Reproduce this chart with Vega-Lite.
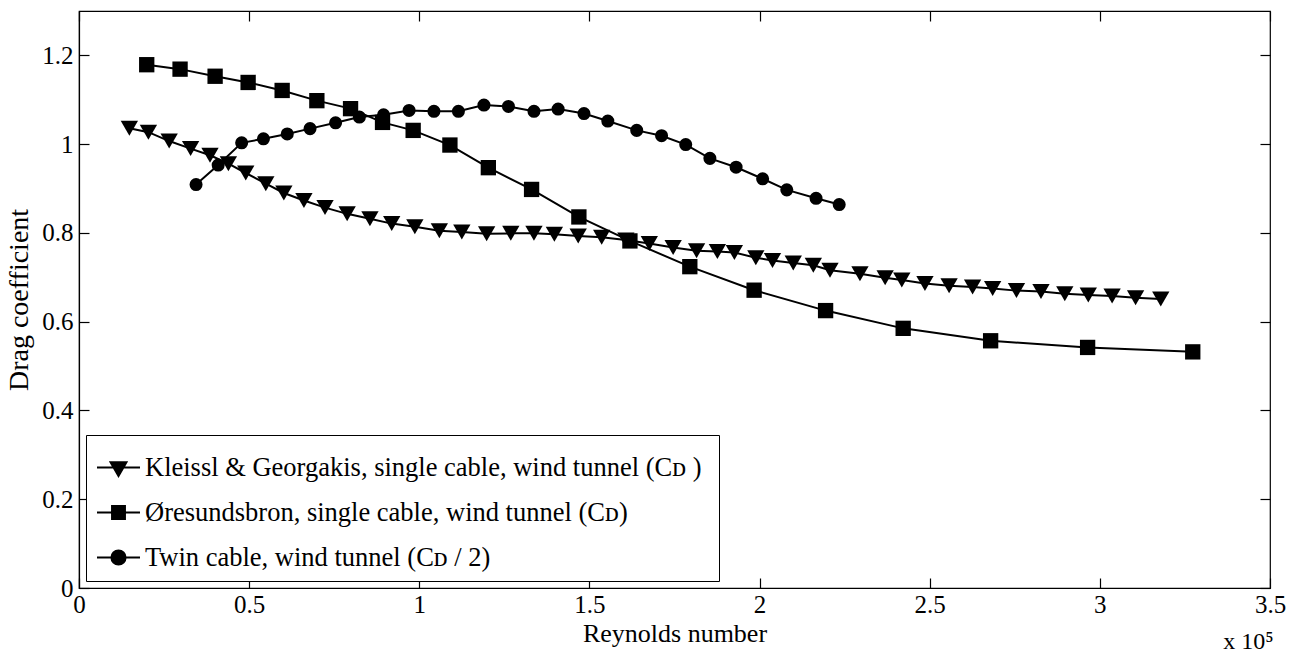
{
  "$schema": "https://vega.github.io/schema/vega-lite/v6.json",
  "width": 1191,
  "height": 577,
  "autosize": {"type": "none"},
  "padding": {"left": 79, "top": 11, "right": 30, "bottom": 70},
  "background": "white",
  "config": {
    "font": "Liberation Serif",
    "view": {"stroke": "black", "strokeWidth": 1.2},
    "axis": {
      "grid": false,
      "domainColor": "black",
      "domainWidth": 1.2,
      "tickColor": "black",
      "tickWidth": 1.2,
      "tickSize": -10,
      "labelColor": "black",
      "titleColor": "black",
      "labelFont": "Liberation Serif",
      "titleFont": "Liberation Serif",
      "labelFontSize": 25,
      "titleFontSize": 26,
      "titleFontWeight": "normal",
      "labelFlush": false
    }
  },
  "title": {
    "text": "x 10⁵",
    "orient": "bottom",
    "anchor": "end",
    "font": "Liberation Serif",
    "fontSize": 24,
    "fontWeight": "normal",
    "color": "black",
    "offset": -16,
    "dx": -12
  },
  "data": {
    "values": [
      {"s": "K", "x": 0.148, "y": 1.036},
      {"s": "K", "x": 0.204, "y": 1.027},
      {"s": "K", "x": 0.265, "y": 1.007},
      {"s": "K", "x": 0.328, "y": 0.990},
      {"s": "K", "x": 0.385, "y": 0.975},
      {"s": "K", "x": 0.439, "y": 0.956},
      {"s": "K", "x": 0.490, "y": 0.935},
      {"s": "K", "x": 0.549, "y": 0.911},
      {"s": "K", "x": 0.602, "y": 0.890},
      {"s": "K", "x": 0.661, "y": 0.873},
      {"s": "K", "x": 0.723, "y": 0.857},
      {"s": "K", "x": 0.788, "y": 0.843},
      {"s": "K", "x": 0.855, "y": 0.832},
      {"s": "K", "x": 0.919, "y": 0.821},
      {"s": "K", "x": 0.987, "y": 0.814},
      {"s": "K", "x": 1.059, "y": 0.805},
      {"s": "K", "x": 1.125, "y": 0.802},
      {"s": "K", "x": 1.198, "y": 0.798},
      {"s": "K", "x": 1.269, "y": 0.799},
      {"s": "K", "x": 1.337, "y": 0.799},
      {"s": "K", "x": 1.397, "y": 0.797},
      {"s": "K", "x": 1.467, "y": 0.793},
      {"s": "K", "x": 1.536, "y": 0.790},
      {"s": "K", "x": 1.607, "y": 0.784},
      {"s": "K", "x": 1.676, "y": 0.776},
      {"s": "K", "x": 1.746, "y": 0.767},
      {"s": "K", "x": 1.815, "y": 0.760},
      {"s": "K", "x": 1.876, "y": 0.758},
      {"s": "K", "x": 1.926, "y": 0.756},
      {"s": "K", "x": 1.989, "y": 0.744},
      {"s": "K", "x": 2.038, "y": 0.738},
      {"s": "K", "x": 2.099, "y": 0.732},
      {"s": "K", "x": 2.158, "y": 0.727},
      {"s": "K", "x": 2.207, "y": 0.716},
      {"s": "K", "x": 2.295, "y": 0.708},
      {"s": "K", "x": 2.369, "y": 0.699},
      {"s": "K", "x": 2.418, "y": 0.694},
      {"s": "K", "x": 2.486, "y": 0.686},
      {"s": "K", "x": 2.557, "y": 0.681},
      {"s": "K", "x": 2.626, "y": 0.678},
      {"s": "K", "x": 2.685, "y": 0.675},
      {"s": "K", "x": 2.755, "y": 0.670},
      {"s": "K", "x": 2.827, "y": 0.668},
      {"s": "K", "x": 2.897, "y": 0.663},
      {"s": "K", "x": 2.966, "y": 0.660},
      {"s": "K", "x": 3.036, "y": 0.658},
      {"s": "K", "x": 3.105, "y": 0.654},
      {"s": "K", "x": 3.179, "y": 0.651},
      {"s": "O", "x": 0.199, "y": 1.179},
      {"s": "O", "x": 0.297, "y": 1.169},
      {"s": "O", "x": 0.400, "y": 1.153},
      {"s": "O", "x": 0.497, "y": 1.139},
      {"s": "O", "x": 0.597, "y": 1.121},
      {"s": "O", "x": 0.699, "y": 1.098},
      {"s": "O", "x": 0.798, "y": 1.080},
      {"s": "O", "x": 0.892, "y": 1.049},
      {"s": "O", "x": 0.982, "y": 1.031},
      {"s": "O", "x": 1.090, "y": 0.998},
      {"s": "O", "x": 1.203, "y": 0.947},
      {"s": "O", "x": 1.330, "y": 0.898},
      {"s": "O", "x": 1.469, "y": 0.836},
      {"s": "O", "x": 1.619, "y": 0.782},
      {"s": "O", "x": 1.795, "y": 0.724},
      {"s": "O", "x": 1.984, "y": 0.671},
      {"s": "O", "x": 2.194, "y": 0.625},
      {"s": "O", "x": 2.422, "y": 0.585},
      {"s": "O", "x": 2.679, "y": 0.557},
      {"s": "O", "x": 2.964, "y": 0.542},
      {"s": "O", "x": 3.273, "y": 0.532},
      {"s": "T", "x": 0.344, "y": 0.909},
      {"s": "T", "x": 0.409, "y": 0.953},
      {"s": "T", "x": 0.478, "y": 1.003},
      {"s": "T", "x": 0.542, "y": 1.012},
      {"s": "T", "x": 0.612, "y": 1.023},
      {"s": "T", "x": 0.679, "y": 1.035},
      {"s": "T", "x": 0.754, "y": 1.048},
      {"s": "T", "x": 0.824, "y": 1.061},
      {"s": "T", "x": 0.895, "y": 1.066},
      {"s": "T", "x": 0.970, "y": 1.076},
      {"s": "T", "x": 1.043, "y": 1.074},
      {"s": "T", "x": 1.115, "y": 1.074},
      {"s": "T", "x": 1.190, "y": 1.088},
      {"s": "T", "x": 1.262, "y": 1.085},
      {"s": "T", "x": 1.337, "y": 1.074},
      {"s": "T", "x": 1.408, "y": 1.079},
      {"s": "T", "x": 1.484, "y": 1.069},
      {"s": "T", "x": 1.554, "y": 1.052},
      {"s": "T", "x": 1.639, "y": 1.031},
      {"s": "T", "x": 1.712, "y": 1.019},
      {"s": "T", "x": 1.783, "y": 0.999},
      {"s": "T", "x": 1.854, "y": 0.968},
      {"s": "T", "x": 1.931, "y": 0.948},
      {"s": "T", "x": 2.009, "y": 0.922},
      {"s": "T", "x": 2.080, "y": 0.897},
      {"s": "T", "x": 2.166, "y": 0.878},
      {"s": "T", "x": 2.234, "y": 0.864}
    ]
  },
  "layer": [
    {
      "mark": {"type": "line", "color": "black", "strokeWidth": 2},
      "encoding": {
        "x": {
          "field": "x", "type": "quantitative",
          "scale": {"domain": [0, 3.5], "nice": false, "zero": false},
          "axis": {
            "values": [0, 0.5, 1, 1.5, 2, 2.5, 3, 3.5],
            "format": "~g",
            "title": "Reynolds number",
            "labelPadding": 14,
            "titlePadding": 3
          }
        },
        "y": {
          "field": "y", "type": "quantitative",
          "scale": {"domain": [0, 1.3], "nice": false},
          "axis": {
            "values": [0, 0.2, 0.4, 0.6, 0.8, 1, 1.2],
            "format": "~g",
            "title": "Drag coefficient",
            "titleFontSize": 28,
            "labelPadding": 16,
            "titlePadding": 8
          }
        },
        "detail": {"field": "s"}
      }
    },
    {
      "mark": {"type": "point", "filled": true, "color": "black", "opacity": 1, "strokeWidth": 0},
      "encoding": {
        "x": {"field": "x", "type": "quantitative", "axis": null},
        "y": {"field": "y", "type": "quantitative", "axis": null},
        "shape": {
          "field": "s",
          "scale": {"domain": ["K", "O", "T"], "range": ["triangle-down", "square", "circle"]},
          "legend": null
        },
        "size": {
          "field": "s", "type": "nominal",
          "scale": {"domain": ["K", "O", "T"], "range": [300, 170, 190]},
          "legend": null
        }
      }
    },
    {
      "mark": {"type": "point", "opacity": 0},
      "encoding": {
        "x": {
          "field": "x", "type": "quantitative",
          "axis": {"orient": "top", "labels": false, "title": null, "domain": false, "values": [0, 0.5, 1, 1.5, 2, 2.5, 3, 3.5]}
        },
        "y": {
          "field": "y", "type": "quantitative",
          "axis": {"orient": "right", "labels": false, "title": null, "domain": false, "values": [0, 0.2, 0.4, 0.6, 0.8, 1, 1.2]}
        },
        "shape": {
          "field": "s",
          "scale": {
            "domain": ["K", "O", "T"],
            "range": [
              "M-1,0L1,0M-0.37,-0.25L0.37,-0.25L0,0.4ZM-0.32,-0.17L0.32,-0.17M-0.28,-0.09L0.28,-0.09M-0.23,-0.01L0.23,-0.01M-0.19,0.07L0.19,0.07M-0.14,0.15L0.14,0.15M-0.1,0.23L0.1,0.23M-0.05,0.31L0.05,0.31",
              "M-1,0L1,0M-0.3,-0.3L0.3,-0.3L0.3,0.3L-0.3,0.3ZM-0.3,-0.22L0.3,-0.22M-0.3,-0.14L0.3,-0.14M-0.3,-0.06L0.3,-0.06M-0.3,0.06L0.3,0.06M-0.3,0.14L0.3,0.14M-0.3,0.22L0.3,0.22",
              "M-1,0L1,0M0.33,0A0.33,0.33,0,1,1,-0.33,0A0.33,0.33,0,1,1,0.33,0ZM-0.32,-0.08L0.32,-0.08M-0.32,0.08L0.32,0.08M-0.29,-0.16L0.29,-0.16M-0.29,0.16L0.29,0.16M-0.23,-0.24L0.23,-0.24M-0.23,0.24L0.23,0.24M-0.14,-0.3L0.14,-0.3M-0.14,0.3L0.14,0.3"
            ]
          },
          "legend": {
            "title": null,
            "orient": "bottom-left",
            "offset": 7,
            "padding": 10,
            "strokeColor": "black",
            "fillColor": "white",
            "symbolSize": 1849,
            "symbolFillColor": "black",
            "symbolStrokeColor": "black",
            "symbolStrokeWidth": 2,
            "symbolOpacity": 1,
            "rowPadding": 9,
            "labelOffset": 4,
            "labelFont": "Liberation Serif",
            "labelFontSize": 26.5,
            "labelColor": "black",
            "labelLimit": 0,
            "labelExpr": "datum.label == 'K' ? 'Kleissl & Georgakis, single cable, wind tunnel  (Cᴅ )' : datum.label == 'O' ? 'Øresundsbron, single cable, wind tunnel  (Cᴅ)' : 'Twin cable, wind tunnel (Cᴅ / 2)'"
          }
        }
      }
    }
  ],
  "resolve": {
    "scale": {"shape": "independent", "size": "independent"},
    "axis": {"x": "independent", "y": "independent"},
    "legend": {"shape": "independent"}
  }
}
